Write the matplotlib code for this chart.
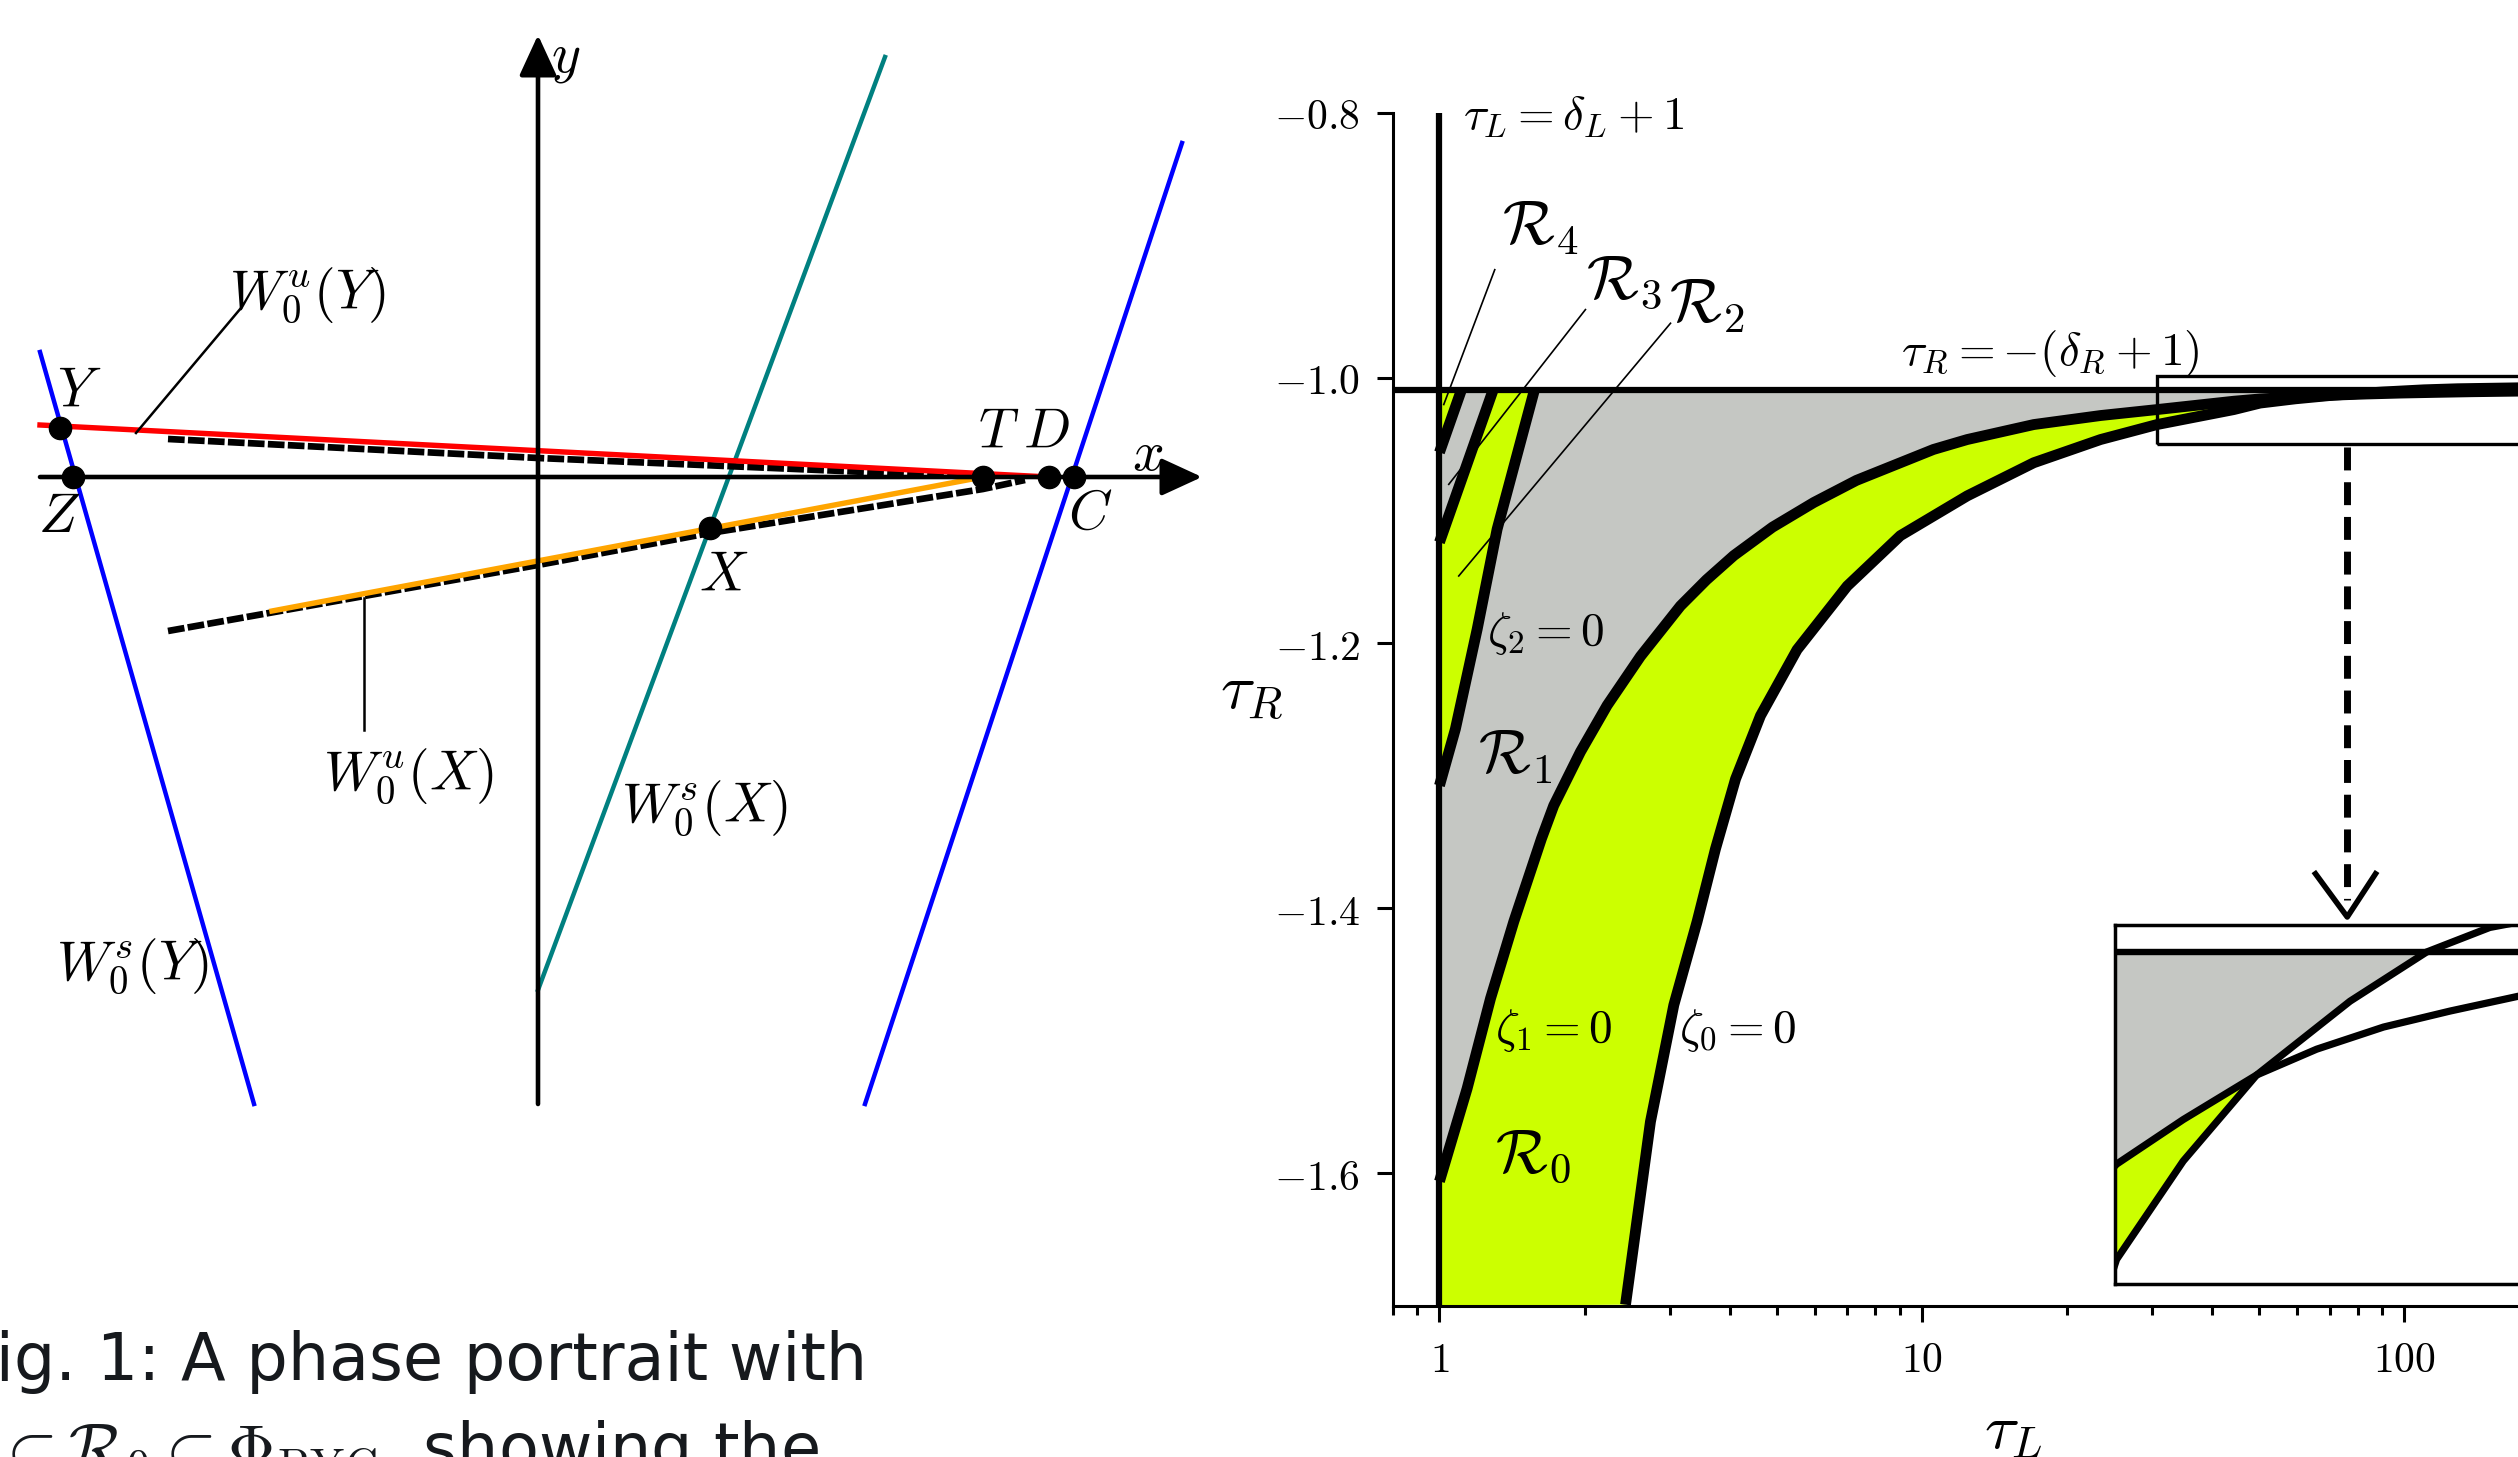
import numpy as np
import matplotlib
matplotlib.use('Agg')
import matplotlib.pyplot as plt
from matplotlib.patches import Rectangle
from matplotlib.ticker import NullFormatter

plt.rcParams['mathtext.fontset'] = 'cm'
plt.rcParams['font.family'] = ['DejaVu Sans']

W, H = 2518, 1457

# ---------------- left panel: schematic phase portrait ----------------
pt_names = ['Y', 'Z', 'T', 'D', 'C', 'X']
pt_x = [-4.78, -4.65, 4.45, 5.11, 5.36, 1.72]
pt_y = [0.49, 0.0, 0.0, 0.0, 0.0, -0.51]

wuY_x, wuY_y = [-4.98, 5.11], [0.52, 0.0]        # W0^u(Y), red
wuX_x, wuX_y = [-2.66, 4.45], [-1.34, 0.0]       # W0^u(X), orange
wsY_x, wsY_y = [-4.98, -2.84], [1.25, -6.27]     # W0^s(Y), blue
wsX_x, wsX_y = [0.0, 3.47], [-5.13, 4.20]        # W0^s(X), teal
wsC_x, wsC_y = [3.27, 6.44], [-6.27, 3.34]       # stable manifold through C, blue
num_up_x, num_up_y = [-3.70, 0.0, 4.45], [0.38, 0.19, 0.0]
num_lo_x, num_lo_y = [-3.70, 0.0, 1.72, 4.45, 4.87], [-1.54, -0.88, -0.56, -0.12, -0.03]

# ---------------- right panel: regions in (tau_L, tau_R) ----------------
HL = -1.009            # tau_R = -(delta_R + 1)
VL = 1.0               # tau_L = delta_L + 1

z1_t = np.array([1.0, 1.141, 1.276, 1.426, 1.627, 1.725, 1.96, 2.226, 2.61, 3.158, 3.576,
                 4.074, 4.90, 5.967, 7.314, 9.02, 10.56, 12.41, 17.05, 23.45, 30.7, 44.3,
                 50.2, 59.4, 71.5, 83.2, 98.5, 116.5, 138.3, 172.0, 250.0])
z1_r = np.array([-1.606, -1.536, -1.468, -1.410, -1.3475, -1.3226, -1.282, -1.247, -1.210,
                 -1.172, -1.1523, -1.134, -1.1126, -1.094, -1.0773, -1.064, -1.054, -1.0465,
                 -1.0352, -1.0284, -1.0239, -1.0176, -1.0159, -1.01445, -1.0130, -1.01216,
                 -1.01144, -1.01092, -1.01044, -1.0100, -1.0096])

z0_t = np.array([2.43, 2.737, 3.06, 3.42, 3.733, 4.108, 4.627, 5.51, 7.0, 9.02, 12.41,
                 17.05, 23.45, 30.7, 44.3, 50.2, 59.4, 71.5, 90.5, 109.8, 128.8, 172.0,
                 250.0])
z0_r = np.array([-1.699, -1.561, -1.473, -1.410, -1.3552, -1.3025, -1.2548, -1.205, -1.157,
                 -1.119, -1.089, -1.064, -1.0465, -1.0352, -1.0239, -1.0190, -1.0158,
                 -1.0130, -1.0106, -1.0090, -1.0082, -1.0075, -1.0068])
cross_t = 71.5       # zeta_0 and zeta_1 intersect
z0_hit = 109.8       # zeta_0 meets tau_R = -(delta_R+1)

z2_t = np.array([1.0, 1.079, 1.1973, 1.3166, 1.5737])
z2_r = np.array([-1.3075, -1.2648, -1.1895, -1.1142, HL])
z3_t = np.array([1.0, 1.2922])
z3_r = np.array([-1.124, HL])
z4_t = np.array([1.0, 1.1107])
z4_r = np.array([-1.0562, HL])

yticks = [-1.6, -1.4, -1.2, -1.0, -0.8]
xticks = [1, 10, 100]

GRAY = '#c5c7c3'
YEL = '#ccff00'

fig = plt.figure(figsize=(W / 100, H / 100), dpi=100)

# ---- left axes, 1 unit = 100 px
axl = fig.add_axes([0, (H - 1150) / H, 1250 / W, 1150 / H])
axl.set_xlim(-5.38, 7.12)
axl.set_ylim(-6.73, 4.77)
axl.axis('off')

arrow_kw = dict(arrowstyle='-|>,head_length=2.5,head_width=1.15', mutation_scale=10,
                lw=3.3, color='k', shrinkA=0, shrinkB=0)
axl.annotate('', xy=(6.64, 0), xytext=(-4.98, 0), arrowprops=arrow_kw)
axl.annotate('', xy=(0, 4.42), xytext=(0, -6.27), arrowprops=arrow_kw)

axl.plot(wsY_x, wsY_y, color='#0000ff', lw=3.2)
axl.plot(wsC_x, wsC_y, color='#0000ff', lw=3.2)
axl.plot(wsX_x, wsX_y, color='#008080', lw=3.2)
axl.plot(num_up_x, num_up_y, color='k', lw=4.8, dashes=(2.5, 0.5))
axl.plot(num_lo_x, num_lo_y, color='k', lw=4.8, dashes=(2.5, 0.5))
axl.plot(wuY_x, wuY_y, color='#ff0000', lw=3.9)
axl.plot(wuX_x, wuX_y, color='#ffa500', lw=3.9)
axl.plot(pt_x, pt_y, 'o', color='k', ms=16, zorder=5)

# leaders
axl.plot([-2.97, -4.02], [1.69, 0.44], color='k', lw=1.8)
axl.plot([-1.74, -1.74], [-1.21, -2.53], color='k', lw=1.8)

lab_pos = {'Y': (-4.585, 0.85), 'Z': (-4.785, -0.40), 'T': (4.61, 0.445),
           'D': (5.087, 0.445), 'C': (5.52, -0.37), 'X': (1.86, -0.99)}
for n in pt_names:
    axl.text(*lab_pos[n], '$%s$' % n, fontsize=40, ha='center', va='center')
axl.text(6.10, 0.22, '$x$', fontsize=40, ha='center', va='center')
axl.text(0.28, 4.19, '$y$', fontsize=40, ha='center', va='center')
axl.text(-2.31, 1.82, r'$W_0^u(Y)$', fontsize=40, ha='center', va='center')
axl.text(-1.30, -2.99, r'$W_0^u(X)$', fontsize=40, ha='center', va='center')
axl.text(1.66, -3.31, r'$W_0^s(X)$', fontsize=40, ha='center', va='center')
axl.text(-4.06, -4.89, r'$W_0^s(Y)$', fontsize=40, ha='center', va='center')

# ---- right axes (log tau_L)
axr = fig.add_axes([1392.7 / W, (H - 1306) / H, 1494.3 / W, (1306 - 112.7) / H])
axr.set_xscale('log')
axr.set_xlim(0.8, 1000)
axr.set_ylim(-1.7, -0.8)

m1 = z1_t <= cross_t
m0 = z0_t <= cross_t
m0b = (z0_t >= cross_t) & (z0_t <= z0_hit)
yel_x = np.r_[VL, z1_t[m1], z0_t[m0][::-1]]
yel_y = np.r_[-1.7, z1_r[m1], z0_r[m0][::-1]]
gray_x = np.r_[VL, z0_t[m0b][::-1], z1_t[m1][::-1]]
gray_y = np.r_[HL, z0_r[m0b][::-1], z1_r[m1][::-1]]
r2_x = np.r_[z3_t, z2_t[::-1]]
r2_y = np.r_[z3_r, z2_r[::-1]]
r4_x = np.r_[z4_t, VL]
r4_y = np.r_[z4_r, HL]


def draw_regions(ax, lw_curve, lw_line):
    ax.fill(gray_x, gray_y, color=GRAY, lw=0, zorder=1)
    ax.fill(yel_x, yel_y, color=YEL, lw=0, zorder=1)
    ax.fill(r2_x, r2_y, color=YEL, lw=0, zorder=1)
    ax.fill(r4_x, r4_y, color=YEL, lw=0, zorder=1)
    ax.axhline(HL, color='k', lw=lw_line, zorder=3)
    for tx, ry in [(z1_t, z1_r), (z0_t, z0_r), (z2_t, z2_r), (z3_t, z3_r), (z4_t, z4_r)]:
        ax.plot(tx, ry, color='k', lw=lw_curve, solid_capstyle='butt',
                solid_joinstyle='round', zorder=3)


draw_regions(axr, 7.8, 4.5)
axr.axvline(VL, color='k', lw=4.5, zorder=3)

for s in ['top', 'right']:
    axr.spines[s].set_visible(False)
for s in ['left', 'bottom']:
    axr.spines[s].set_linewidth(2.2)
axr.set_yticks(yticks)
axr.set_yticklabels([r'$%.1f$' % v for v in yticks])
axr.set_xticks(xticks)
axr.set_xticklabels([r'$%d$' % v for v in xticks])
axr.xaxis.set_minor_formatter(NullFormatter())
axr.tick_params(which='major', direction='out', length=11.5, width=2.2, labelsize=30, pad=12)
axr.tick_params(which='minor', direction='out', length=6.5, width=2.2)

txt = dict(fontsize=34, va='center', ha='left')
axr.text(1.121, -0.8025, r'$\tau_L = \delta_L + 1$', **txt)
axr.text(9.04, -0.9817, r'$\tau_R = -(\delta_R + 1)$', **txt)
axr.text(1.2575, -1.193, r'$\zeta_2 = 0$', **txt)
axr.text(1.306, -1.492, r'$\zeta_1 = 0$', **txt)
axr.text(3.13, -1.492, r'$\zeta_0 = 0$', **txt)

rl = dict(fontsize=44, ha='center', va='center')
axr.text(1.619, -0.8868, r'$\mathcal{R}_4$', **rl)
axr.text(2.417, -0.9275, r'$\mathcal{R}_3$', **rl)
axr.text(3.59, -0.946, r'$\mathcal{R}_2$', **rl)
axr.text(1.437, -1.2861, r'$\mathcal{R}_1$', **rl)
axr.text(1.563, -1.5873, r'$\mathcal{R}_0$', **rl)
axr.plot([1.302, 1.0207], [-0.9184, -1.0201], color='k', lw=1.2, zorder=4)
axr.plot([2.007, 1.0454], [-0.9485, -1.0803], color='k', lw=1.2, zorder=4)
axr.plot([3.012, 1.0964], [-0.9588, -1.1494], color='k', lw=1.2, zorder=4)

# zoom window and dashed pointer
axr.add_patch(Rectangle((30.7, -1.0497), 1000, 0.0509, fill=False, ec='k', lw=2.4, zorder=5))
axr.plot([76.1, 76.1], [-1.0525, -1.394], color='k', lw=5, dashes=(3.3, 1.7), zorder=5)
axr.plot([65.4, 76.1, 87.1], [-1.374, -1.4066, -1.374], color='k', lw=4, zorder=5)

fig.text(1252 / W, 1 - 692 / H, r'$\tau_R$', fontsize=46, ha='center', va='center')
fig.text(2013 / W, 1 - 1430 / H, r'$\tau_L$', fontsize=46, ha='center', va='center')

# ---- inset
axi = fig.add_axes([2115 / W, (H - 1284) / H, 912 / W, (1284 - 925) / H])
axi.set_xscale('log')
axi.set_xlim(50, 500)
axi.set_ylim(-1.0198, -1.00812)
draw_regions(axi, 5.2, 4.6)
axi.set_xticks([])
axi.set_yticks([])
axi.minorticks_off()
for s in axi.spines.values():
    s.set_linewidth(2.5)

# ---- caption fragment
cap = dict(fontsize=47, color='#16191d', ha='left', va='baseline',
           family=['DejaVu Sans'])
fig.text(-37 / W, 1 - 1380 / H, 'Fig. 1: A phase portrait with', **cap)
fig.text(-5 / W, 1 - 1470 / H, r'$\subset\mathcal{R}_0\subset\Phi_{\rm BYC}$, showing the', **cap)

fig.savefig('out.png', dpi=100)
